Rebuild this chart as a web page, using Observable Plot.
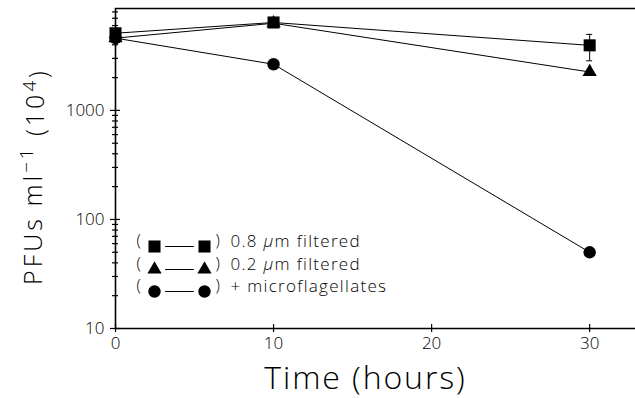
<!DOCTYPE html>
<html><head><meta charset="utf-8">
<script src="https://cdn.jsdelivr.net/npm/d3@7"></script>
<script src="https://cdn.jsdelivr.net/npm/@observablehq/plot@0.6"></script>
<style>html,body{margin:0;padding:0;background:#fff} svg{display:block}</style>
</head><body><div id="chart"></div>
<script>
// ---- data ----
const hours = [0, 10, 30];
const filtered08 = [5100, 6400, 3950];
const filtered02 = [4600, 6300, 2250];
const microflag = [4600, 2650, 50];
const err08Hour = [30];
const err08Low = [2850];
const err08High = [4980];
const seriesNames = ["0.8 μm filtered", "0.2 μm filtered", "+ microflagellates"];
const seriesSymbols = ["square", "triangle", "circle"];
const xTicks = [0, 10, 20, 30];
const yMajor = [10, 100, 1000];
const yMinor = [20, 30, 40, 50, 60, 70, 80, 90, 200, 300, 400, 500, 600, 700, 800, 900, 2000, 3000, 4000, 5000, 6000, 7000, 8000];
const xTitle = "Time (hours)";
const yTitle = "PFUs ml⁻¹ (10⁴)";

const seriesValues = [filtered08, filtered02, microflag];
const symbolR = {square: 6.8, triangle: 5.3, circle: 6.2};
const rows = seriesValues.map((vals, s) => hours.map((h, i) => ({hour: h, pfu: vals[i], series: seriesNames[s]})));
const errRows = err08Hour.map((h, i) => ({hour: h, lo: err08Low[i], hi: err08High[i]}));

const FONT = "'Open Sans', Roboto, 'DejaVu Sans', sans-serif";
const legendMarks = [];
const rowDy = [-82, -59, -37];
seriesNames.forEach((name, i) => {
  const sym = seriesSymbols[i];
  legendMarks.push(
    Plot.text(["("], {frameAnchor: "bottom-left", dx: 21, dy: rowDy[i] - 1, text: d => d, textAnchor: "start", fontSize: 16}),
    Plot.dot([name], {frameAnchor: "bottom-left", dx: 39, dy: rowDy[i], symbol: sym, r: symbolR[sym], fill: "#000", stroke: "none"}),
    Plot.vector([name], {frameAnchor: "bottom-left", dx: 50, dy: rowDy[i], rotate: 90, length: 28, anchor: "start", stroke: "#000", strokeWidth: 1,
      shape: {draw(ctx, l) { ctx.moveTo(0, 0); ctx.lineTo(0, -l); }}}),
    Plot.dot([name], {frameAnchor: "bottom-left", dx: 89, dy: rowDy[i], symbol: sym, r: symbolR[sym], fill: "#000", stroke: "none"}),
    Plot.text([")"], {frameAnchor: "bottom-left", dx: 100, dy: rowDy[i] - 1, text: d => d, textAnchor: "start", fontSize: 16}),
    Plot.text([name], {frameAnchor: "bottom-left", dx: 115, dy: rowDy[i], text: d => d, textAnchor: "start", fontSize: 17})
  );
});

const chart = Plot.plot({
  width: 635, height: 398,
  marginLeft: 115, marginRight: 0, marginTop: 8, marginBottom: 70,
  x: {domain: [0, 32.9]},
  y: {type: "log", domain: [10, 8600]},
  style: {fontFamily: FONT, fontWeight: 300, fontSize: "17px", color: "#000", background: "#fff"},
  marks: [
    Plot.axisY(yMajor, {tickSize: 10, dx: 5, tickPadding: 6, tickFormat: d => String(d), label: null, strokeWidth: 1.2, fontSize: 17}),
    Plot.axisY(yMinor, {tickSize: 6, dx: 3, tickFormat: () => "", label: null, strokeWidth: 1.2}),
    Plot.axisX(xTicks, {tickSize: 8, dy: -4, tickPadding: 4, tickFormat: d => String(d), label: null, strokeWidth: 1.2, fontSize: 17}),
    Plot.ruleX([0], {strokeWidth: 1.6}),
    Plot.ruleY([10], {strokeWidth: 1.6}),
    Plot.ruleY([8600], {strokeWidth: 1.4}),
    ...rows.map(r => Plot.line(r, {x: "hour", y: "pfu", stroke: "#000", strokeWidth: 1})),
    Plot.ruleX(errRows, {x: "hour", y1: "lo", y2: "hi", stroke: "#000", strokeWidth: 1}),
    Plot.ruleY(errRows, {y: "lo", x1: "hour", x2: "hour", insetLeft: -3, insetRight: -3, stroke: "#000", strokeWidth: 1}),
    Plot.ruleY(errRows, {y: "hi", x1: "hour", x2: "hour", insetLeft: -3, insetRight: -3, stroke: "#000", strokeWidth: 1}),
    ...rows.map((r, s) => Plot.dot(r, {x: "hour", y: "pfu", symbol: seriesSymbols[s], r: symbolR[seriesSymbols[s]], fill: "#000", stroke: "none"})),
    ...legendMarks,
    Plot.text([yTitle], {frameAnchor: "left", dx: -82, dy: 8, rotate: -90, text: d => d, fontSize: 25, textAnchor: "middle"}),
    Plot.text([xTitle], {frameAnchor: "bottom", dx: -10, dy: 50, text: d => d, fontSize: 32, lineAnchor: "middle", textAnchor: "middle"})
  ]
});
document.getElementById("chart").appendChild(chart);

// typographic touches: italic mu, real superscripts, wide letter spacing
d3.select(chart).selectAll("text").each(function() {
  const t = this.textContent;
  if (this.children.length) return;
  const s = d3.select(this);
  if (seriesNames.includes(t)) {
    s.attr("letter-spacing", "1.3px");
    if (t.includes("μ")) {
      const parts = t.split("μ");
      this.textContent = "";
      s.append("tspan").text(parts[0]);
      s.append("tspan").attr("font-style", "italic").text("μ");
      s.append("tspan").text(parts[1]);
    }
  } else if (t === xTitle) {
    s.attr("letter-spacing", "1.9px");
  } else if (t === yTitle) {
    s.attr("letter-spacing", "3px");
    this.textContent = "";
    s.append("tspan").text("PFUs ml");
    s.append("tspan").attr("font-size", "0.75em").attr("dy", "-0.45em").text("−1");
    s.append("tspan").attr("dy", "0.45em").text(" (10");
    s.append("tspan").attr("font-size", "0.75em").attr("dy", "-0.45em").text("4");
    s.append("tspan").attr("dy", "0.45em").text(")");
  }
});
</script>
</body></html>
